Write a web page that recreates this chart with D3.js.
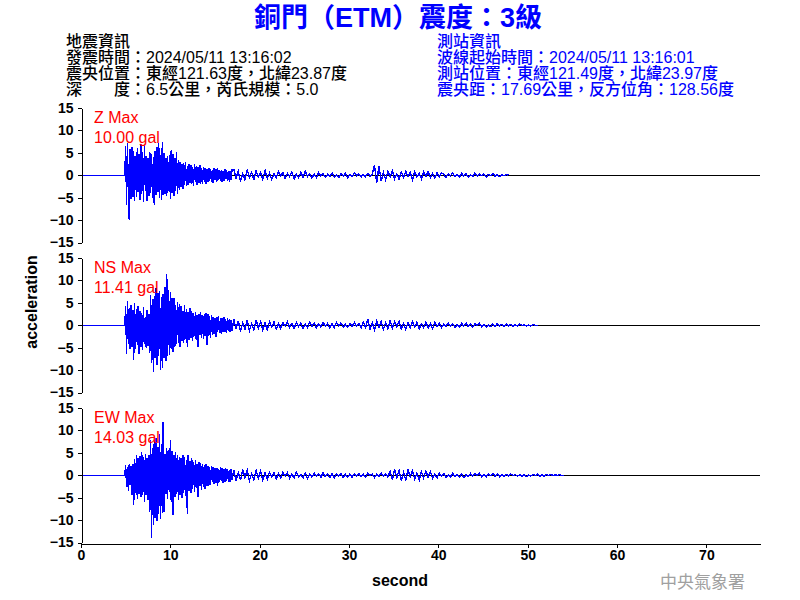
<!DOCTYPE html>
<html>
<head>
<meta charset="utf-8">
<script src="https://cdn.jsdelivr.net/npm/d3@7"></script>
<style>
  html, body { margin: 0; padding: 0; background: #fff; }
  svg { display: block; }
</style>
</head>
<body>
<svg id="chart" width="800" height="600"></svg>
<script>
// ---------------- DATA ----------------
const titleText = "銅門（ETM）震度：3級";
const quakeInfo = [
  "地震資訊",
  "發震時間：2024/05/11 13:16:02",
  "震央位置：東經121.63度，北緯23.87度",
  "深　　度：6.5公里，芮氏規模：5.0"
];
const stationInfo = [
  "測站資訊",
  "波線起始時間：2024/05/11 13:16:01",
  "測站位置：東經121.49度，北緯23.97度",
  "震央距：17.69公里，反方位角：128.56度"
];
const components = ["Z", "NS", "EW"];
const peakLabels = ["10.00", "11.41", "14.03"];
const timeTicks = [0, 10, 20, 30, 40, 50, 60, 70];
const accelTicks = [-15, -10, -5, 0, 5, 10, 15];
const timeDomain = [0, 76];
const accelDomain = [-15, 15];

// sampling of the hand-read traces (seconds)
const onsetTime = 5.0;
const strongStep = 0.1;   // strong-motion part, from onsetTime
const tailStart = 17.1;
const tailStep = 0.25;    // coda part, from tailStart

// Z component (gal)
const zStrong = [
  6.5, -6.7, 7.1, -4.5, -10.0, 5.8,
  -5.2, 6.3, -4.8, 5.5, -5.7, 4.2, -4.9, 6.0, -3.8, 4.8, -5.5,
  7.0, -4.2, 5.1, -5.9, 6.7, -3.5, 4.4, -5.8, 3.9,
  -4.6, 5.2, -3.9, 4.8, -5.1,
  4.0, -6.7, 5.5, -4.4, 6.2, -3.8, 7.1,
  -5.0, 4.6, -5.6, 7.4, -4.3, 5.0,
  -4.1, 3.8, -4.6, 4.2, -3.5, 4.5,
  -5.2, 5.6, -4.0, 4.8, -4.6,
  3.9, -3.6, 5.2, -4.1, 3.4, -3.2,
  3.0, -2.6, 2.4, -3.0, 2.7, -2.2, 2.9, -2.5, 2.0,
  -2.2, 2.6, -1.8, 2.2, -2.0, 1.9, -2.3, 2.4, -1.6, 2.0, -2.1, 1.8, -1.7, 2.2, -1.9, 1.5, -2.0,
  1.8, -1.4, 1.6, -1.9, 1.3, -1.5, 1.7, -1.2, 1.4, -1.6, 1.2, -1.8, 1.5, -1.1, 1.3, -1.4,
  1.6, -1.0, 1.2, -1.3, 1.1, -1.5, 1.0, -1.2, 1.3, -0.9, 1.1, -1.2, 0.9, -1.4, 1.0, -1.1, 1.2
];
const zTail = [
  1.3, -0.6, 0.9, -1.4, 0.4, -1.0, 1.2, -0.5, 0.7, -1.1, 1.0, -0.4, 0.6, -0.9, 1.1, -0.7,
  0.5, -0.9, 0.3, -0.6, 0.8, -0.2, 0.6, -0.7, 0.4, -0.3, 0.7, -0.8, 0.2, -0.5, 0.6, -0.4,
  0.9, -0.3, 0.4, -0.6, 0.3, -0.5, 0.6, -0.2,
  0.4, -0.5, 0.2, -0.3, 0.5, -0.4, 0.1, -0.5, 0.3, -0.2, 0.4, -0.5, 0.2, -0.3, 0.5, -0.1,
  0.3, -0.4, 0.2, -0.3, 0.4, -0.2, 0.3,
  2.2, -1.7, 2.1, -1.3,
  0.6, -1.0, 0.9, -0.4, 1.0, -0.8, 0.3, -0.9, 0.7, -0.5, 0.9, -0.3, 0.6, -1.0, 0.8, -0.4,
  0.5, -0.8, 0.7, -0.3, 0.8, -0.5, 0.4, -0.7, 0.5, -0.3, 0.5,
  0.2, -0.5, 0.3, -0.1, 0.5, -0.3, 0.2, -0.4, 0.4, -0.2, 0.3, -0.4, 0.1, -0.3, 0.5, -0.2,
  0.3, -0.1, 0.3, -0.4, 0.2, -0.1, 0.4, -0.2, 0.1, -0.3, 0.2, -0.1, 0.2, 0
];

// NS component (gal)
const nsStrong = [
  4.2, -6.5, 5.3, -4.1, 3.8, -5.2, 4.6, -4.8, 3.5, -7.8,
  4.9, -5.3, 3.6, -4.4, 4.2, -6.3, 3.1, -4.9, 2.8, -5.6, 4.0, -4.2, 1.9, -5.0, 3.3, -4.6, 2.6,
  -6.1, 6.8, -8.4, 5.9, -10.4, 6.5, -7.2,
  8.3, -8.9, 7.2, -6.8, 7.6, -10.0, 6.2,
  -9.6, 7.0, -7.4, 8.5, -8.0, 11.4, -6.9,
  7.9, -6.6, 7.5, -5.4, 6.1, -6.0,
  6.0, -4.8, 4.5, -4.2, 5.2, -3.9, 4.7, -4.8,
  4.4, -3.5, 3.2, -4.0, 4.5, -3.1, 3.6, -4.8, 3.0, -3.3, 3.8, -2.9, 3.1, -3.6, 2.8,
  -2.4, 3.0, -3.3, 2.3, -4.8, 2.6, -2.2, 2.9, -2.8, 2.2, -3.1, 2.5, -2.3, 2.7, -4.4, 2.4,
  -2.5, 2.1, -2.8, 2.3, -2.2,
  1.9, -2.0, 1.6, -2.6, 1.8, -1.5, 2.0, -1.7, 1.5, -1.9, 1.6, -1.4, 1.8, -1.6, 1.3, -1.7,
  1.5, -1.2, 1.4, -1.5, 1.2, -1.3
];
const nsTail = [
  1.3, -0.7, 1.0, -1.4, 0.5, -0.9, 1.1, -1.2, 0.4, -1.0, 1.2, -0.6, 0.8, -1.1, 0.5, -1.0,
  0.8, -0.4, 0.7, -0.9, 0.3, -0.7, 0.6, -0.2, 0.8, -0.5, 0.4, -0.7, 0.6, -0.3, 0.5, -0.8,
  0.2, -0.5, 0.7, -0.3, 0.5, -0.6, 0.3, -0.4, 0.6, -0.2, 0.4, -0.6, 0.3, -0.5, 0.6, -0.2,
  0.5, -0.4, 0.2, -0.5, 0.4, -0.3, 0.6, -0.2,
  0.4, -0.6, 0.7, -0.5, 1.3, -0.9, 0.6, -1.0, 0.9, -0.4, 0.8, -0.9, 0.5, -0.8, 1.0, -0.6,
  0.8, -0.3, 0.9, -0.8, 0.4, -0.9, 0.6, -0.5, 0.8, -0.4, 0.7, -0.8, 0.3, -0.5, 0.7, -0.6,
  0.4, -0.7, 0.6, -0.3,
  0.4, -0.5, 0.2, -0.3, 0.5, -0.2, 0.4, -0.5, 0.1, -0.4, 0.4, -0.2, 0.5, -0.3, 0.2, -0.4,
  0.3, -0.1, 0.4, -0.3, 0.2, -0.4, 0.1, -0.3, 0.3, -0.2, 0.4, -0.1, 0.2, -0.3, 0.3, -0.1,
  0.2, -0.3, 0.1, -0.2, 0.3, -0.1, 0.2, -0.2, 0.1, -0.2, 0.2, -0.1, 0
];

// EW component (gal)
const ewStrong = [
  2.3, -2.6, 1.9, -3.5, 2.6, -2.2, 2.0, -4.5, 2.4, -6.7,
  3.7, -3.9, 4.5, -5.2, 3.9, -4.1, 4.2,
  -4.8, 5.2, -4.3, 4.1, -6.0, 4.8, -4.5, 3.9, -5.6, 4.6,
  -8.2, 7.8, -14.1, 6.0, -11.2,
  7.8, -9.5, 8.2, -10.3, 6.4, -8.6, 9.1, -9.8, 7.0, -8.4, 11.9, -8.2,
  4.8, -4.1, 6.0, -5.2, 5.6, -3.8,
  7.8, -5.9, 5.3, -8.9, 4.5,
  -4.8, 5.2, -4.1, 4.5, -5.6, 4.1, -4.3, 3.8, -5.0, 4.6, -3.9, 4.0, -4.6, 3.5,
  -8.6,
  4.5, -3.6, 3.2, -4.0, 3.8, -3.0, 2.9, -3.7, 3.4, -2.8, 2.6, -4.8, 3.0, -2.5, 2.8, -3.3,
  2.4, -2.7, 2.2, -3.0, 2.5, -2.3,
  2.0, -2.5, 1.8, -2.2, 2.1, -1.6, 1.9, -2.0, 1.5, -1.8, 1.7, -2.3, 1.4, -1.6, 1.8, -1.3,
  1.5, -1.7, 1.3, -1.5, 1.6, -1.2, 1.4, -1.5, 1.2, -1.4, 1.3, -1.1
];
const ewTail = [
  1.2, -1.3, 0.6, -1.1, 1.3, -0.5, 1.1, -1.2, 0.4, -1.0, 1.1, -0.6, 1.0, -1.1, 0.5, -0.9,
  0.7, -0.3, 0.6, -0.8, 0.4, -0.6, 0.7, -0.2, 0.6, -0.7, 0.3, -0.6, 0.7, -0.4, 0.2, -0.6,
  0.5, -0.7, 0.3, -0.4, 0.5, -0.2, 0.4, -0.5, 0.6, -0.3, 0.2, -0.5, 0.4, -0.6, 0.3, -0.2,
  0.4, -0.5, 0.2, -0.4, 0.3, -0.5, 0.4, -0.1,
  0.4, -0.3, 0.2, -0.4, 0.5, -0.1, 0.3, -0.5, 0.2, -0.3, 0.5, -0.2, 0.4, -0.4,
  0.9, -1.0, 1.3, -0.5, 1.1, -1.2, 0.6, -1.0, 1.2, -0.4, 1.0, -0.8, 0.5, -1.1, 0.8, -0.6,
  1.0, -0.4, 0.8, -0.7, 0.3, -0.6,
  0.5, -0.2, 0.4, -0.5, 0.1, -0.4, 0.5, -0.3, 0.2, -0.4, 0.3, -0.5, 0.1, -0.3, 0.4, -0.2,
  0.3, -0.1, 0.4, -0.3, 0.2, -0.4, 0.3, -0.1, 0.4, -0.2, 0.3, -0.3, 0.1, -0.3, 0.2, -0.2,
  0.3, -0.1, 0.2, -0.2, 0.1, -0.2, 0.2, -0.3, 0.1, -0.2, 0.2, -0.1, 0.3, -0.2, 0.1, -0.2,
  0.2, -0.1, 0.2, -0.1, 0.1, -0.1, 0.2, -0.1, 0
];

const strongSeries = [zStrong, nsStrong, ewStrong];
const tailSeries = [zTail, nsTail, ewTail];

// ---------------- LAYOUT ----------------
const svg = d3.select("#chart");
const plotLeft = 81, plotRight = 760;
const panelTops = [108, 258, 408];
const panelHeight = 134.5;
const latinCjk = "'Liberation Sans', Arial, 'Noto Sans CJK TC', sans-serif";
const waveColor = "#0000ff";
const labelRed = "#ff0000";

const x = d3.scaleLinear().domain(timeDomain).range([plotLeft, plotRight]);

// title
svg.append("text")
  .attr("x", 398).attr("y", 27)
  .attr("text-anchor", "middle")
  .attr("font-family", latinCjk)
  .attr("font-size", 27).attr("font-weight", "bold")
  .attr("fill", "#0000ff")
  .text(titleText);

// header blocks
function header(lines, x0, color) {
  svg.append("g").selectAll("text").data(lines).join("text")
    .attr("x", x0)
    .attr("y", (d, i) => 47 + i * 16)
    .attr("font-family", latinCjk)
    .attr("font-size", 16)
    .attr("font-weight", 500)
    .attr("fill", color)
    .text(d => d);
}
header(quakeInfo, 66, "#000000");
header(stationInfo, 437, "#0000ff");

// trace builder
function buildTrace(strong, tail) {
  const pts = [[timeDomain[0], 0], [onsetTime - strongStep, 0]];
  strong.forEach((v, i) => pts.push([onsetTime + i * strongStep, v]));
  tail.forEach((v, j) => pts.push([tailStart + j * tailStep, v]));
  return pts;
}

components.forEach((comp, k) => {
  const top = panelTops[k];
  const y = d3.scaleLinear().domain(accelDomain).range([top + panelHeight, top]);
  const g = svg.append("g");

  // zero line
  g.append("line")
    .attr("x1", x(timeDomain[0])).attr("x2", x(timeDomain[1]))
    .attr("y1", Math.round(y(0)) + 0.5).attr("y2", Math.round(y(0)) + 0.5)
    .attr("stroke", "#000").attr("stroke-width", 1)
    .attr("shape-rendering", "crispEdges");

  // waveform
  const line = d3.line().x(d => x(d[0])).y(d => y(d[1]));
  g.append("path")
    .datum(buildTrace(strongSeries[k], tailSeries[k]))
    .attr("d", line)
    .attr("fill", "none")
    .attr("stroke", waveColor)
    .attr("stroke-width", 1.4)
    .attr("shape-rendering", "crispEdges");

  // y axis
  const ax = g.append("g")
    .attr("transform", `translate(${plotLeft + 0.5},0)`)
    .call(d3.axisLeft(y).tickValues(accelTicks).tickSize(4).tickSizeOuter(0).tickPadding(4));
  ax.selectAll("path,line").attr("stroke", "#000").attr("shape-rendering", "crispEdges");
  ax.selectAll("text")
    .attr("font-family", latinCjk).attr("font-size", 14).attr("font-weight", "bold")
    .attr("fill", "#000");

  // max labels
  g.append("text")
    .attr("x", 94).attr("y", top + 15)
    .attr("font-family", latinCjk).attr("font-size", 16)
    .attr("fill", labelRed)
    .text(comp + " Max");
  g.append("text")
    .attr("x", 94).attr("y", top + 35)
    .attr("font-family", latinCjk).attr("font-size", 16)
    .attr("fill", labelRed)
    .text(peakLabels[k] + " gal");
});

// x axis (bottom panel)
const xAxisY = panelTops[2] + panelHeight;
const xa = svg.append("g")
  .attr("transform", `translate(0,${Math.round(xAxisY) + 0.5})`)
  .call(d3.axisBottom(x).tickValues(timeTicks).tickSize(4).tickSizeOuter(0).tickPadding(3));
xa.selectAll("path,line").attr("stroke", "#000").attr("shape-rendering", "crispEdges");
xa.selectAll("text")
  .attr("font-family", latinCjk).attr("font-size", 14).attr("font-weight", "bold")
  .attr("fill", "#000");

// axis titles
svg.append("text")
  .attr("x", 400).attr("y", 586)
  .attr("text-anchor", "middle")
  .attr("font-family", latinCjk).attr("font-size", 16).attr("font-weight", "bold")
  .text("second");
svg.append("text")
  .attr("transform", "translate(37,302) rotate(-90)")
  .attr("text-anchor", "middle")
  .attr("font-family", latinCjk).attr("font-size", 16).attr("font-weight", "bold")
  .text("acceleration");

// watermark
svg.append("text")
  .attr("x", 745).attr("y", 588)
  .attr("text-anchor", "end")
  .attr("font-family", "'Noto Sans CJK TC', sans-serif").attr("font-size", 17)
  .attr("fill", "#a0a0a0")
  .text("中央氣象署");
</script>
</body>
</html>
